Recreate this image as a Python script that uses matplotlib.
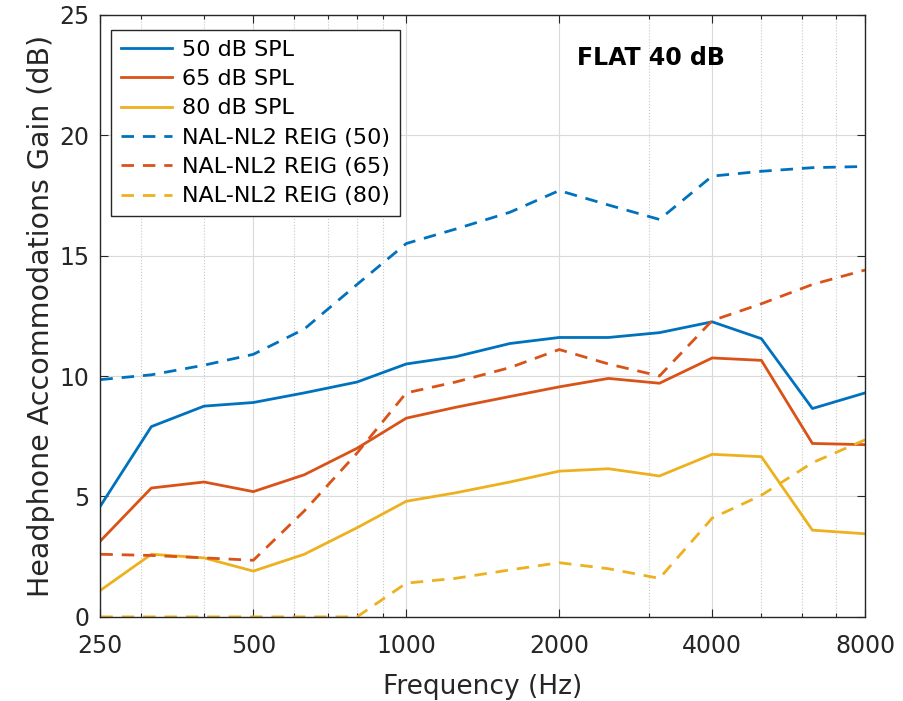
import matplotlib
matplotlib.use("Agg")
import matplotlib.pyplot as plt
from matplotlib.ticker import FixedLocator, NullFormatter

# third-octave centre frequencies (Hz)
freqs = [250, 315, 400, 500, 630, 800, 1000, 1250, 1600, 2000, 2500, 3150, 4000, 5000, 6300, 8000]

# measured headphone accommodation gain (dB)
spl50 = [4.6, 7.9, 8.75, 8.9, 9.3, 9.75, 10.5, 10.8, 11.35, 11.6, 11.6, 11.8, 12.25, 11.55, 8.65, 9.3]
spl65 = [3.15, 5.35, 5.6, 5.2, 5.9, 7.0, 8.25, 8.7, 9.15, 9.55, 9.9, 9.7, 10.75, 10.65, 7.2, 7.15]
spl80 = [1.1, 2.6, 2.45, 1.9, 2.6, 3.7, 4.8, 5.15, 5.6, 6.05, 6.15, 5.85, 6.75, 6.65, 3.6, 3.45]

# NAL-NL2 real-ear insertion gain targets (dB)
nal50 = [9.85, 10.05, 10.45, 10.9, 11.95, 13.8, 15.5, 16.1, 16.8, 17.7, 17.1, 16.5, 18.3, 18.5, 18.65, 18.7]
nal65 = [2.6, 2.55, 2.45, 2.35, 4.4, 6.8, 9.3, 9.75, 10.35, 11.1, 10.5, 10.0, 12.3, 13.0, 13.8, 14.4]
nal80 = [0, 0, 0, 0, 0, 0, 1.4, 1.6, 1.95, 2.25, 2.0, 1.6, 4.1, 5.05, 6.4, 7.35]

major_ticks = [250, 500, 1000, 2000, 4000, 8000]
minor_ticks = [300, 400, 600, 700, 800, 900, 3000, 5000, 6000, 7000]

blue = "#0072BD"
orange = "#D95319"
yellow = "#EDB120"

plt.rcParams["font.family"] = ["DejaVu Sans"]

fig = plt.figure(figsize=(9.04, 7.01), dpi=100)
ax = fig.add_axes([0.111, 0.120, 0.846, 0.859])

lw = 2.0
dash = (4.5, 3.2)
ax.plot(freqs, spl50, color=blue, lw=lw, label="50 dB SPL")
ax.plot(freqs, spl65, color=orange, lw=lw, label="65 dB SPL")
ax.plot(freqs, spl80, color=yellow, lw=lw, label="80 dB SPL")
ax.plot(freqs, nal50, color=blue, lw=lw, dashes=dash, label="NAL-NL2 REIG (50)")
ax.plot(freqs, nal65, color=orange, lw=lw, dashes=dash, label="NAL-NL2 REIG (65)")
ax.plot(freqs, nal80, color=yellow, lw=lw, dashes=dash, label="NAL-NL2 REIG (80)")

ax.set_xscale("log")
ax.set_xlim(250, 8000)
ax.set_ylim(0, 25)
ax.xaxis.set_major_locator(FixedLocator(major_ticks))
ax.xaxis.set_minor_locator(FixedLocator(minor_ticks))
ax.xaxis.set_minor_formatter(NullFormatter())
ax.set_xticklabels([str(t) for t in major_ticks])
ax.set_yticks([0, 5, 10, 15, 20, 25])

ax.grid(True, which="major", color="#dadada", lw=0.8, ls="-")
ax.grid(True, which="minor", axis="x", color="#c8c8c8", lw=0.8, ls=":")
ax.set_axisbelow(True)

ax.tick_params(which="both", direction="in", top=True, right=True, colors="#262626", labelsize=17)
ax.tick_params(which="major", length=6, width=0.8)
ax.tick_params(which="minor", length=3, width=0.8)
ax.tick_params(axis="x", pad=12)
ax.tick_params(axis="y", pad=8)
for sp in ax.spines.values():
    sp.set_color("#262626")
    sp.set_linewidth(1.0)

ax.set_xlabel("Frequency (Hz)", fontsize=19, color="#262626", labelpad=12)
ax.set_ylabel("Headphone Accommodations Gain (dB)", fontsize=20.5, color="#262626", labelpad=3)

ax.text(0.72, 0.928, "FLAT 40 dB", transform=ax.transAxes, ha="center", va="center",
        fontsize=17, fontweight="bold", color="black")

leg = ax.legend(loc="upper left", bbox_to_anchor=(0.014, 0.975), borderaxespad=0,
                fontsize=16, handlelength=2.3, handletextpad=0.45, labelspacing=0.42,
                fancybox=False, framealpha=1, edgecolor="#262626", borderpad=0.45)
leg.get_frame().set_linewidth(1.0)

fig.savefig("out.png", dpi=100)
